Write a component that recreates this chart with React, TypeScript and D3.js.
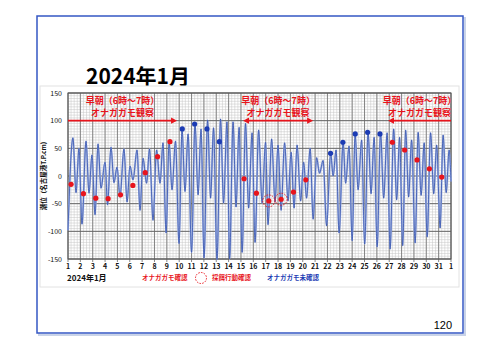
import { curveMonotoneX, line, range, scaleLinear } from "d3";

// tide extremes (day of month, level T.P. cm)
const tideDays = [
  1.0, 1.4, 1.65, 1.89, 2.13, 2.46, 2.7, 2.94, 3.19, 3.43, 3.67, 4.0, 4.2, 4.48, 4.72, 4.97,
  5.21, 5.53, 5.78, 6.02, 6.26, 6.59, 6.83, 7.07, 7.36, 7.6, 7.88, 8.17, 8.45, 8.69, 8.94,
  9.18, 9.42, 9.7, 9.99, 10.23, 10.47, 10.72, 11.0, 11.28, 11.53, 11.77, 12.01, 12.3, 12.54,
  12.78, 13.06, 13.35, 13.59, 13.87, 14.08, 14.36, 14.6, 14.85, 15.09, 15.37, 15.62, 15.9,
  16.14, 16.43, 16.71, 16.99, 17.19, 17.48, 17.76, 18.0, 18.25, 18.53, 18.81, 19.06, 19.3,
  19.54, 19.83, 20.07, 20.31, 20.6, 20.84, 21.12, 21.36, 21.65, 21.93, 22.26, 22.46, 22.7,
  22.94, 23.27, 23.47, 23.75, 24.0, 24.24, 24.48, 24.77, 25.01, 25.29, 25.53, 25.78, 26.02,
  26.3, 26.55, 26.83, 27.07, 27.36, 27.6, 27.84, 28.09, 28.33, 28.57, 28.81, 29.1, 29.34,
  29.58, 29.83, 30.07, 30.35, 30.6, 30.84, 31.12, 31.36, 31.61, 31.85, 32.0,
];
const tideLevels = [
  -98, 69, -30, 50, -87, 63, -31, 38, -70, 58, -22, 25, -52, 52, -12, 16,
  -38, 49, -47, 18, -7, 47, -62, 32, -13, 49, -80, 47, -13, 60, -103,
  61, -25, 63, -122, 85, -28, 76, -138, 95, -34, 85, -148, 101, -40,
  87, -151, 103, -49, 98, -150, 98, -56, 88, -138, 95, -58, 78,
  -120, 83, -49, 61, -88, 67, -47, 56, -62, 60, -45, 43, -58,
  56, -45, 25, -40, 50, -78, 33, 5, 28, -90, 41, 0, 47,
  -103, 61, -13, 54, -117, 76, -25, 65, -123, 79, -32, 70, -128,
  78, -40, 78, -132, 85, -43, 70, -126, 83, -38, 65, -121, 79,
  -35, 60, -110, 78, -32, 56, -94, 74, -30, 47, -10,
];

// morning observations (6-7h)
const seenDays = [1, 2, 3, 4, 5, 6, 7, 8, 9, 15, 16, 17, 18, 19, 20, 27, 28, 29, 30, 31];
const seenLevels = [-15, -32, -40, -41, -34, -17, 6, 35, 62, -5, -31, -45, -42, -29, -7, 61, 47, 29, 13, -2];
const unseenDays = [10, 11, 12, 13, 22, 23, 24, 25, 26];
const unseenLevels = [85, 94, 85, 62, 41, 61, 76, 79, 76];
const feedingDays = [17, 18];

// observation periods (arrows)
const periodStart = [1, 15.17, 26.9];
const periodEnd = [9.83, 20.84, 32];
const periodHeads = ["end", "both", "start"];

const xTicks = range(1, 33);
const xTickLabels = [...range(1, 32).map(String), "1"];
const yTicks = [150, 100, 50, 0, -50, -100, -150];

const RED = "#e8141c";
const BLUE = "#1c3cb4";
const FONT = "'Noto Sans CJK JP', 'Liberation Sans', sans-serif";

const App = () => {
  const left = 68;
  const right = 451;
  const top = 93;
  const bottom = 259;

  const x = scaleLinear().domain([1, 32]).range([left, right]);
  const y = scaleLinear().domain([-150, 150]).range([bottom, top]);

  const tide = tideDays.map((d, i) => ({ d, v: tideLevels[i] }));
  const tideLine = line<{ d: number; v: number }>()
    .x((p) => x(p.d))
    .y((p) => y(p.v))
    .curve(curveMonotoneX);

  const minorX = range(1, 32.001, 0.25);
  const minorY = range(-150, 151, 5);
  const obsX = (d: number) => x(d + 0.25);
  const arrowY = y(100);

  const head = (px: number, dir: number) =>
    `M${px},${arrowY} L${px - dir * 6},${arrowY - 3.2} L${px - dir * 6},${arrowY + 3.2} Z`;

  return (
    <svg
      width={500}
      height={354}
      style={{ position: "absolute", left: 0, top: 0, background: "#fff" }}
      fontFamily={FONT}
    >
      {/* slide frame */}
      <rect x={39} y={18} width={426} height={317} fill="none" stroke="#c9d3e8" strokeWidth={2} />
      <rect x={37} y={16} width={426} height={317} fill="#fff" stroke="#3557c4" strokeWidth={1.5} />
      <text x={86} y={84} fontSize={21} fontWeight="bold" fill="#000">
        2024年1月
      </text>
      <text x={452} y={329} fontSize={11} textAnchor="end" fontFamily="'Liberation Sans', sans-serif">
        120
      </text>

      {/* chart panel */}
      <rect x={40} y={86} width={419} height={201} fill="#fff" stroke="#e2e2e2" strokeWidth={1} />

      {/* grid */}
      {minorX.map((d) => (
        <line key={"mx" + d} x1={x(d)} x2={x(d)} y1={top} y2={bottom} stroke="#c4c4c4" strokeWidth={0.5} />
      ))}
      {minorY.map((v) => (
        <line key={"my" + v} x1={left} x2={right} y1={y(v)} y2={y(v)} stroke="#c4c4c4" strokeWidth={0.5} />
      ))}
      {xTicks.map((d) => (
        <line key={"gx" + d} x1={x(d)} x2={x(d)} y1={top} y2={bottom + 3} stroke="#7a7a7a" strokeWidth={0.9} />
      ))}
      {yTicks.map((v) => (
        <line key={"gy" + v} x1={left} x2={right} y1={y(v)} y2={y(v)} stroke="#666" strokeWidth={1} />
      ))}
      <rect x={left} y={top} width={right - left} height={bottom - top} fill="none" stroke="#555" strokeWidth={1} />

      {/* axis labels */}
      {yTicks.map((v) => (
        <text key={"yl" + v} x={left - 6} y={y(v) + 2.5} fontSize={7} textAnchor="end" fill="#111">
          {v}
        </text>
      ))}
      {xTicks.map((d, i) => (
        <text key={"xl" + d} x={x(d)} y={bottom + 10} fontSize={7} fontWeight="bold" textAnchor="middle" fill="#111">
          {xTickLabels[i]}
        </text>
      ))}
      <text
        transform={`translate(46,${(top + bottom) / 2}) rotate(-90)`}
        fontSize={6.5}
        fontWeight="bold"
        textAnchor="middle"
        fill="#111"
      >
        潮位（名古屋港T.P.cm)
      </text>

      {/* tide curve */}
      <path d={tideLine(tide) ?? ""} fill="none" stroke="#a9b9e4" strokeWidth={2} />
      <path d={tideLine(tide) ?? ""} fill="none" stroke="#3452ad" strokeWidth={0.8} />

      {/* observation periods */}
      {periodStart.map((s, i) => {
        const x0 = x(s);
        const x1 = x(periodEnd[i]);
        const h = periodHeads[i];
        const mid = (x0 + x1) / 2;
        return (
          <g key={"p" + i}>
            <line
              x1={h === "start" || h === "both" ? x0 + 5 : x0}
              x2={h === "end" || h === "both" ? x1 - 5 : x1}
              y1={arrowY}
              y2={arrowY}
              stroke={RED}
              strokeWidth={1.8}
            />
            {(h === "end" || h === "both") && <path d={head(x1, 1)} fill={RED} />}
            {(h === "start" || h === "both") && <path d={head(x0, -1)} fill={RED} />}
            <text x={mid} y={104} fontSize={9} fontWeight="bold" textAnchor="middle" fill={RED}>
              早朝（6時～7時）
            </text>
            <text x={mid} y={116} fontSize={9} fontWeight="bold" textAnchor="middle" fill={RED}>
              オナガガモ観察
            </text>
          </g>
        );
      })}

      {/* observations */}
      {feedingDays.map((d) => (
        <circle
          key={"f" + d}
          cx={obsX(d)}
          cy={y(seenLevels[seenDays.indexOf(d)])}
          r={6}
          fill="none"
          stroke={RED}
          strokeWidth={0.9}
          strokeDasharray="1.6 1.2"
        />
      ))}
      {seenDays.map((d, i) => (
        <circle key={"s" + d} cx={obsX(d)} cy={y(seenLevels[i])} r={2.6} fill={RED} />
      ))}
      {unseenDays.map((d, i) => (
        <circle key={"u" + d} cx={obsX(d)} cy={y(unseenLevels[i])} r={2.6} fill={BLUE} />
      ))}

      {/* legend */}
      <text x={67} y={281} fontSize={8} fontWeight="bold" fill="#111">
        2024年1月
      </text>
      <text x={142} y={280} fontSize={6.5} fontWeight="bold" fill={RED}>
        オナガガモ確認
      </text>
      <circle cx={201} cy={278} r={5.5} fill="none" stroke={RED} strokeWidth={0.9} strokeDasharray="1.6 1.2" />
      <text x={212} y={280} fontSize={6.5} fontWeight="bold" fill={RED}>
        採餌行動確認
      </text>
      <text x={267} y={280} fontSize={6.5} fontWeight="bold" fill={BLUE}>
        オナガガモ未確認
      </text>
    </svg>
  );
};

export default App;
